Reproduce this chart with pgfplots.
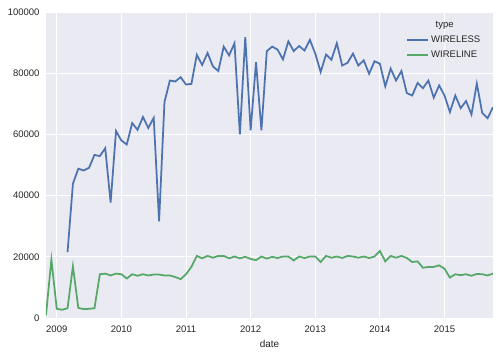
\documentclass[border=0pt]{standalone}
\usepackage{pgfplots}
\pgfplotsset{compat=1.18}
\usepackage{fontspec}
\setmainfont{Liberation Sans}
\definecolor{sbbg}{HTML}{EAEAF2}
\definecolor{sbblue}{HTML}{4C72B0}
\definecolor{sbgreen}{HTML}{55A868}
\definecolor{sbtext}{HTML}{262626}
\begin{document}
\begin{tikzpicture}
\useasboundingbox (-46pt,-38pt) rectangle (453pt,318pt);
\begin{axis}[
  at={(0pt,0pt)}, anchor=south west,
  width=447pt, height=306pt, scale only axis,
  xmin=0, xmax=83, ymin=0, ymax=100000,
  axis background/.style={fill=sbbg},
  axis line style={draw=none},
  grid=major, major grid style={white, line width=0.9pt},
  major tick length=0pt,
  xtick={2,14,26,38,50,62,74},
  xticklabels={2009,2010,2011,2012,2013,2014,2015},
  ytick={0,20000,40000,60000,80000,100000},
  scaled ticks=false,
  /pgf/number format/.cd, fixed, set thousands separator={}, assume math mode=true,
  /pgfplots/.cd,
  tick label style={font=\fontsize{9.5}{11}\selectfont, text=sbtext},
  xticklabel style={yshift=-4pt},
  yticklabel style={xshift=-3pt},
  xlabel={date},
  xlabel style={font=\fontsize{10}{12}\selectfont, text=sbtext, yshift=-1pt},
  legend style={draw=none, fill=none, inner sep=0pt, at={(rel axis cs:0.806,0.929)}, anchor=north west,
    font=\fontsize{9.5}{11}\selectfont, text=sbtext, row sep=3pt,
    /tikz/every even column/.append style={column sep=0pt}},
  legend image code/.code={\draw[#1] (0pt,0pt) -- (21pt,0pt);},
  legend cell align=left,
]
\addplot[sbblue, line width=1.75pt] coordinates {
(4,21500)(5,43900)(6,48800)(7,48200)(8,49100)(9,53300)(10,52900)(11,55500)
(12,37700)(13,61100)(14,58000)(15,56700)(16,63700)(17,61500)(18,65700)(19,62100)
(20,65400)(21,31600)(22,70600)(23,77600)(24,77300)(25,78700)(26,76300)(27,76500)
(28,86000)(29,82700)(30,86600)(31,82200)(32,80700)(33,88700)(34,85800)(35,89800)
(36,60000)(37,91800)(38,61300)(39,83600)(40,61300)(41,87200)(42,88700)(43,87700)
(44,84500)(45,90400)(46,87200)(47,88900)(48,87400)(49,90900)(50,86400)(51,80400)
(52,86100)(53,84400)(54,89800)(55,82500)(56,83400)(57,86400)(58,82500)(59,84200)
(60,79800)(61,83900)(62,83100)(63,75700)(64,81500)(65,77600)(66,80700)(67,73500)
(68,72700)(69,76800)(70,75100)(71,77600)(72,72000)(73,76000)(74,72700)(75,67300)
(76,72700)(77,68600)(78,70900)(79,66500)(80,76600)(81,67000)(82,65300)(83,68900)
};
\addlegendentry{WIRELESS}
\addplot[sbgreen, line width=1.75pt] coordinates {
(0,900)(1,19100)(2,3000)(3,2700)(4,3200)(5,16900)(6,3300)(7,2900)
(8,3000)(9,3200)(10,14300)(11,14500)(12,13900)(13,14500)(14,14300)(15,12900)
(16,14300)(17,13800)(18,14300)(19,13900)(20,14200)(21,14200)(22,13900)(23,13900)
(24,13400)(25,12700)(26,14300)(27,16700)(28,20300)(29,19500)(30,20300)(31,19700)
(32,20300)(33,20300)(34,19500)(35,20100)(36,19500)(37,20000)(38,19300)(39,18900)
(40,20100)(41,19400)(42,20000)(43,19600)(44,20100)(45,20100)(46,18800)(47,20100)
(48,19600)(49,20100)(50,20100)(51,18300)(52,20300)(53,19700)(54,20100)(55,19600)
(56,20300)(57,20100)(58,19700)(59,20100)(60,19600)(61,20100)(62,21900)(63,18500)
(64,20300)(65,19700)(66,20300)(67,19600)(68,18300)(69,18500)(70,16400)(71,16700)
(72,16700)(73,17200)(74,16100)(75,13200)(76,14300)(77,14000)(78,14300)(79,13800)
(80,14400)(81,14300)(82,13900)(83,14500)
};
\addlegendentry{WIRELINE}
\node[font=\fontsize{9.5}{11}\selectfont, text=sbtext, inner sep=0pt] at (rel axis cs:0.892,0.955) {type};
\end{axis}
\end{tikzpicture}
\end{document}
